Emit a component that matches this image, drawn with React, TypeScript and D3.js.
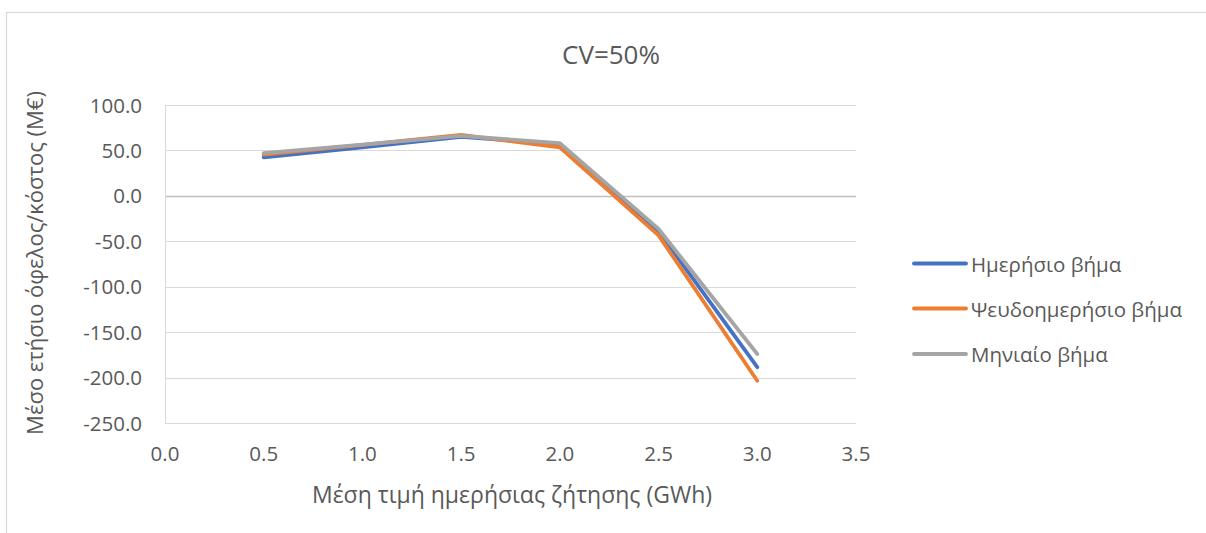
import React from "react";
import * as d3 from "d3";

// Mean daily demand (GWh)
const demand = [0.5, 1.0, 1.5, 2.0, 2.5, 3.0];
// Mean annual benefit/cost (M€) per time-step resolution
const dailyStep = [42.5, 53.5, 65, 57, -39, -188.5];
const pseudoDailyStep = [45.5, 56, 67, 53.5, -43.5, -203.5];
const monthlyStep = [47, 56.5, 66, 58, -36.5, -174];

const seriesNames = ["Ημερήσιο βήμα", "Ψευδοημερήσιο βήμα", "Μηνιαίο βήμα"];
const seriesColors = ["#4472C4", "#ED7D31", "#A5A5A5"];
const seriesValues = [dailyStep, pseudoDailyStep, monthlyStep];

const xTicks = [0, 0.5, 1, 1.5, 2, 2.5, 3, 3.5];
const yTicks = [100, 50, 0, -50, -100, -150, -200, -250];

const title = "CV=50%";
const xTitle = "Μέση τιμή ημερήσιας ζήτησης (GWh)";
const yTitle = "Μέσο ετήσιο όφελος/κόστος (M€)";

const W = 1206;
const H = 533;
const FONT = "'Open Sans', Lato, sans-serif";
const TEXT = "#595959";

export default function App() {
  const x = d3.scaleLinear().domain([0, 3.5]).range([165, 856]);
  const y = d3.scaleLinear().domain([-250, 100]).range([423, 105]);

  const line = d3
    .line<number>()
    .x((_, i) => x(demand[i]))
    .y((d) => y(d));

  return (
    <svg
      width={W}
      height={H}
      style={{ position: "fixed", left: 0, top: 0, background: "#fff" }}
      fontFamily={FONT}
    >
      <rect x={6.5} y={12.5} width={W} height={H} fill="#fff" stroke="#d9d9d9" strokeWidth={1.2} />

      <text x={611} y={64} textAnchor="middle" fontSize={26} fill={TEXT}>
        {title}
      </text>

      {/* gridlines */}
      {yTicks.map((t) => (
        <line
          key={t}
          x1={x(0)}
          x2={x(3.5)}
          y1={Math.round(y(t)) + 0.5}
          y2={Math.round(y(t)) + 0.5}
          stroke={t === 0 ? "#bfbfbf" : "#d9d9d9"}
          strokeWidth={t === 0 ? 1.5 : 1}
        />
      ))}
      {/* value axis line */}
      <line
        x1={x(0) + 0.5}
        x2={x(0) + 0.5}
        y1={y(100)}
        y2={y(-250)}
        stroke="#d9d9d9"
        strokeWidth={1}
      />

      {/* y tick labels */}
      {yTicks.map((t) => (
        <text
          key={t}
          x={142}
          y={y(t) + 7.5}
          textAnchor="end"
          fontSize={20.5}
          fill={TEXT}
        >
          {t.toFixed(1)}
        </text>
      ))}

      {/* x tick labels */}
      {xTicks.map((t) => (
        <text key={t} x={x(t)} y={461} textAnchor="middle" fontSize={20.5} fill={TEXT}>
          {t.toFixed(1)}
        </text>
      ))}

      {/* series */}
      {seriesValues.map((vals, i) => (
        <path
          key={seriesNames[i]}
          d={line(vals) ?? ""}
          fill="none"
          stroke={seriesColors[i]}
          strokeWidth={3.8}
          strokeLinejoin="round"
          strokeLinecap="round"
        />
      ))}

      {/* axis titles */}
      <text x={512} y={503} textAnchor="middle" fontSize={23} fill={TEXT}>
        {xTitle}
      </text>
      <text
        transform={`translate(43, 263) rotate(-90)`}
        textAnchor="middle"
        fontSize={22}
        fill={TEXT}
      >
        {yTitle}
      </text>

      {/* legend */}
      {seriesNames.map((name, i) => {
        const ly = [263.5, 308.5, 354][i];
        return (
          <g key={name}>
            <line x1={914} x2={966} y1={ly} y2={ly} stroke={seriesColors[i]} strokeWidth={3.8} strokeLinecap="round" />
            <text x={971} y={ly + 8} fontSize={20.5} fill={TEXT}>
              {name}
            </text>
          </g>
        );
      })}
    </svg>
  );
}
